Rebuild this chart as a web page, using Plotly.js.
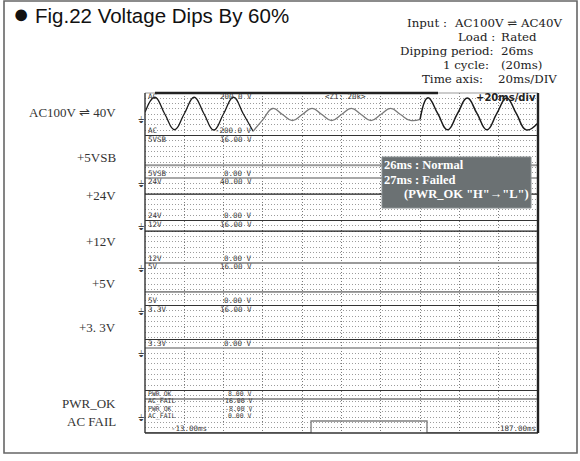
<!DOCTYPE html>
<html><head><meta charset="utf-8">
<script src="https://cdn.plot.ly/plotly-3.0.1.min.js"></script>
<style>html,body{margin:0;padding:0;background:#fff;} #chart{width:580px;height:461px;}</style>
</head><body><div id="chart"></div>
<script>
// ---- AC input waveform (ms, V), read at peaks, troughs and crossings ----
const acTimeA = [-13, -8, -3, 2, 7, 12, 17, 22, 27, 32, 37, 42];
const acVoltA = [18, 160, 5, -146, 5, 160, 5, -148, 5, 160, 5, -160];
const acTimeB = [42, 47, 52, 57, 62, 67, 72, 77, 82, 87, 92, 97, 102, 107, 112, 117, 122, 127];
const acVoltB = [-160, -50, 54, -3, -60, -3, 56, -3, -60, -3, 55, -3, -60, -3, 55, -3, -58, -48];
const acTimeC = [127, 131, 136, 141, 146, 151, 156, 161, 166, 171, 176, 181, 187];
const acVoltC = [-48, 156, 5, -147, 5, 152, 5, -147, 5, 153, 5, -147, -82];

// ---- DC outputs ----
const timeSpan = [-13, 187];
const dcChannels = ['5VSB', '24V', '12V', '5V', '3.3V', 'PWR_OK'];
const dcLevels = [4.8, 24.9, 12.0, 5.1, 3.2, 4.8];

// ---- AC_FAIL signal ----
const acFailTime = [-13, 71.5, 130.5, 187];
const acFailVolt = [0, 4.5, 0, 0];

// ---- channel scales (top to bottom) ----
const chanTags   = ['AC', '5VSB', '24V', '12V', '5V', '3.3V', '', 'PWR_OK'];
const chanMin    = [-200, 0, 0, 0, 0, 0, 0, -8];
const chanMax    = [200, 16, 40, 16, 16, 16, 16, 8];
const topLabels  = ['200.0 V', '16.00 V', '40.00 V', '16.00 V', '16.00 V', '16.00 V', '', '8.00 V'];
const botLabels  = ['-200.0 V', '0.00 V', '0.00 V', '0.00 V', '0.00 V', '0.00 V', '', '-8.00 V'];
const acFailRange = [0, 16];
const acFailLabels = ['16.00 V', '0.00 V'];
const sideLabels = ['AC100V \u21CC 40V', '+5VSB', '+24V', '+12V', '+5V', '+3. 3V', 'PWR_OK', 'AC FAIL'];
const timeLabels = ['-13.00ms', '187.00ms'];

const infoLeft  = ['Input :', 'Load :', 'Dipping period:', '1 cycle:', 'Time axis:'];
const infoRight = ['AC100V \u21CC AC40V', 'Rated', '26ms', '(20ms)', '20ms/DIV'];
const noteLines = ['26ms : Normal', '27ms : Failed', '(PWR_OK "H"\u2192"L")'];

// ---- layout helpers (pixel -> paper) ----
const L = 145, R = 538, T = 93, B = 433;
const PX = p => (p - L) / (R - L);
const PY = p => (B - p) / (B - T);
const regionH = (B - T) / 8;

const DARK = '#1c1c1c';
const layoutAx = i => i === 0 ? 'yaxis' : 'yaxis' + (i + 1);

const traces = [];
traces.push({x: acTimeA, y: acVoltA, yaxis: 'y', mode: 'lines', line: {color: DARK, width: 1.3, shape: 'spline', smoothing: 1.3}});
traces.push({x: acTimeB, y: acVoltB, yaxis: 'y', mode: 'lines', line: {color: '#7a7a7a', width: 1.3, shape: 'spline', smoothing: 1.3}});
traces.push({x: acTimeC, y: acVoltC, yaxis: 'y', mode: 'lines', line: {color: DARK, width: 1.5, shape: 'spline', smoothing: 1.3}});

const dcAxis = ['y2', 'y3', 'y4', 'y5', 'y6', 'y8'];
const dcStyle = [
  {color: '#999', width: 2.2}, {color: DARK, width: 1.3}, {color: DARK, width: 1.3},
  {color: '#333', width: 1}, {color: '#333', width: 1.2}, {color: '#9a9a9a', width: 2.2}
];
dcChannels.forEach((c, k) => {
  traces.push({x: timeSpan, y: [dcLevels[k], dcLevels[k]], yaxis: dcAxis[k], mode: 'lines', name: c, line: dcStyle[k]});
});
traces.push({x: [], y: [], yaxis: 'y7', mode: 'lines'});
traces.push({x: acFailTime, y: acFailVolt, yaxis: 'y9', mode: 'lines', line: {color: '#808080', width: 1.4, shape: 'hv'}});

const layout = {
  width: 580, height: 461,
  margin: {l: L, r: 580 - R, t: T, b: 461 - B, pad: 0},
  paper_bgcolor: '#fff', plot_bgcolor: '#fff',
  showlegend: false,
  title: {
    text: '<span style="font-size:27px">\u25CF</span> Fig.22 Voltage Dips By 60%',
    x: 13 / 580, xanchor: 'left', xref: 'container',
    y: 1 - 16 / 461, yanchor: 'middle', yref: 'container',
    font: {family: 'Liberation Sans, Arial, sans-serif', size: 20.5, color: '#111'}
  },
  xaxis: {range: timeSpan, tick0: -13, dtick: 20, showgrid: true, gridcolor: '#7a7a7a', griddash: '1px,2px', gridwidth: 1,
          zeroline: false, showticklabels: false, ticks: '', anchor: 'y8', fixedrange: true},
  shapes: [], annotations: []
};

for (let i = 0; i < 8; i++) {
  const lo = (7 - i) / 8, hi = (8 - i) / 8;
  layout[layoutAx(i)] = {
    domain: [lo, hi], range: [chanMin[i], chanMax[i]],
    tick0: chanMin[i], dtick: (chanMax[i] - chanMin[i]) / 8,
    showgrid: true, gridcolor: '#9c9c9c', griddash: '1px,2px', gridwidth: 1,
    zeroline: false, showticklabels: false, ticks: '', showline: false, anchor: 'x', fixedrange: true
  };
}
layout.yaxis9 = {overlaying: 'y8', range: acFailRange, showgrid: false, zeroline: false, showticklabels: false,
                 ticks: '', anchor: 'x', fixedrange: true};

// separators between channels
const sepStyle = [
  {color: '#333', width: 1.2}, {color: '#8c8c8c', width: 1.6}, {color: '#333', width: 1.2},
  {color: '#9a9a9a', width: 2.2}, {color: '#333', width: 1.2}, {color: '#8c8c8c', width: 1.6}, {color: '#333', width: 1.2}
];
sepStyle.forEach((s, k) => {
  const yy = (7 - k) / 8;
  layout.shapes.push({type: 'line', xref: 'paper', yref: 'paper', x0: 0, x1: 1, y0: yy, y1: yy, line: s});
});
// plot border
layout.shapes.push({type: 'line', xref: 'paper', yref: 'paper', x0: 0, x1: 1, y0: 1, y1: 1, line: {color: '#999', width: 1}});
layout.shapes.push({type: 'line', xref: 'paper', yref: 'paper', x0: PX(155), x1: PX(438), y0: 1, y1: 1, line: {color: '#222', width: 2.5}});
layout.shapes.push({type: 'line', xref: 'paper', yref: 'paper', x0: 0, x1: 1, y0: 0, y1: 0, line: {color: '#333', width: 1.6}});
layout.shapes.push({type: 'line', xref: 'paper', yref: 'paper', x0: 0, x1: 0, y0: 0, y1: 1, line: {color: '#333', width: 1.4}});
layout.shapes.push({type: 'line', xref: 'paper', yref: 'paper', x0: 1, x1: 1, y0: 0, y1: 1, line: {color: '#222', width: 2.4}});
// outer frame
layout.shapes.push({type: 'rect', xref: 'paper', yref: 'paper', x0: PX(4), x1: PX(577), y0: PY(453), y1: PY(1),
                    line: {color: '#666', width: 1.6}, fillcolor: 'rgba(0,0,0,0)'});
// note box
layout.shapes.push({type: 'rect', xref: 'paper', yref: 'paper', x0: PX(382), x1: PX(531), y0: PY(208), y1: PY(157),
                    line: {color: '#8a9092', width: 1}, fillcolor: '#6b7173', layer: 'above'});

const A = layout.annotations;
const txt = (text, x, y, xa, font, extra) => A.push(Object.assign({text, x: PX(x), y: PY(y), xref: 'paper', yref: 'paper',
  xanchor: xa, yanchor: 'middle', showarrow: false, font, borderpad: 0}, extra || {}));
const mono = {family: 'DejaVu Sans Mono, monospace', size: 7.5, color: '#3a3a3a'};
const monoS = {family: 'DejaVu Sans Mono, monospace', size: 6.5, color: '#3a3a3a'};
const serif = {family: 'Liberation Serif, Times New Roman, serif', size: 13, color: '#333'};

// in-plot channel scale labels
for (let i = 0; i < 7; i++) {
  if (!chanTags[i]) continue;
  const top = T + i * regionH, bot = top + regionH;
  txt(chanTags[i], 147, top + 3.5, 'left', mono);
  txt(topLabels[i], 253, top + 3.5, 'right', mono);
  txt(chanTags[i], 147, bot - 5, 'left', mono);
  txt(botLabels[i], 253, bot - 5, 'right', mono);
}
// combined PWR_OK / AC_FAIL labels
const pwY = [393.5, 400.5, 408.5, 415.5];
txt(chanTags[7], 147, pwY[0], 'left', monoS);  txt(topLabels[7], 253, pwY[0], 'right', monoS);
txt('AC_FAIL', 147, pwY[1], 'left', monoS);    txt(acFailLabels[0], 253, pwY[1], 'right', monoS);
txt(chanTags[7], 147, pwY[2], 'left', monoS);  txt(botLabels[7], 253, pwY[2], 'right', monoS);
txt('AC_FAIL', 147, pwY[3], 'left', monoS);    txt(acFailLabels[1], 253, pwY[3], 'right', monoS);

txt('&lt;Z1: 20k&gt;', 345, 96.5, 'center', mono);
txt('+20ms/div', 537, 98, 'right', {family: 'DejaVu Sans, sans-serif', size: 10, color: '#222', weight: 'bold'});
txt(timeLabels[0], 170, 428, 'left', mono);
txt(timeLabels[1], 537, 428, 'right', mono);

// ground markers at each channel's 0 V
const gndAxes = ['y', 'y2', 'y3', 'y4', 'y5', 'y6', 'y8'];
gndAxes.forEach(ax => A.push({text: '\u23DA', x: PX(141), xref: 'paper', y: 0, yref: ax, xanchor: 'center', yanchor: 'top',
  showarrow: false, borderpad: 0, font: {family: 'DejaVu Sans, sans-serif', size: 9, color: '#444'}}));

// side labels
const sideY = [112, 157, 195, 241, 283, 327, 403, 421];
sideLabels.forEach((s, k) => txt(s, 117, sideY[k], 'right', serif));

// info block
const infoY = [22.5, 36.7, 50.8, 64.9, 79];
const infoLX = [448, 496, 495, 490, 484];
const infoRX = [453, 500, 500, 500, 497];
const info = {family: 'DejaVu Serif, Liberation Serif, serif', size: 11.8, color: '#222'};
infoLeft.forEach((s, k) => { txt(s, infoLX[k], infoY[k], 'right', info); txt(infoRight[k], infoRX[k], infoY[k], 'left', info); });

// note text
const note = {family: 'Liberation Serif, Times New Roman, serif', size: 12.5, color: '#fff', weight: 'bold'};
txt(noteLines[0], 383, 165, 'left', note);
txt(noteLines[1], 383, 180, 'left', note);
txt(noteLines[2], 530, 193.5, 'right', note);

Plotly.newPlot('chart', traces, layout, {displayModeBar: false, staticPlot: true});
</script></body></html>
